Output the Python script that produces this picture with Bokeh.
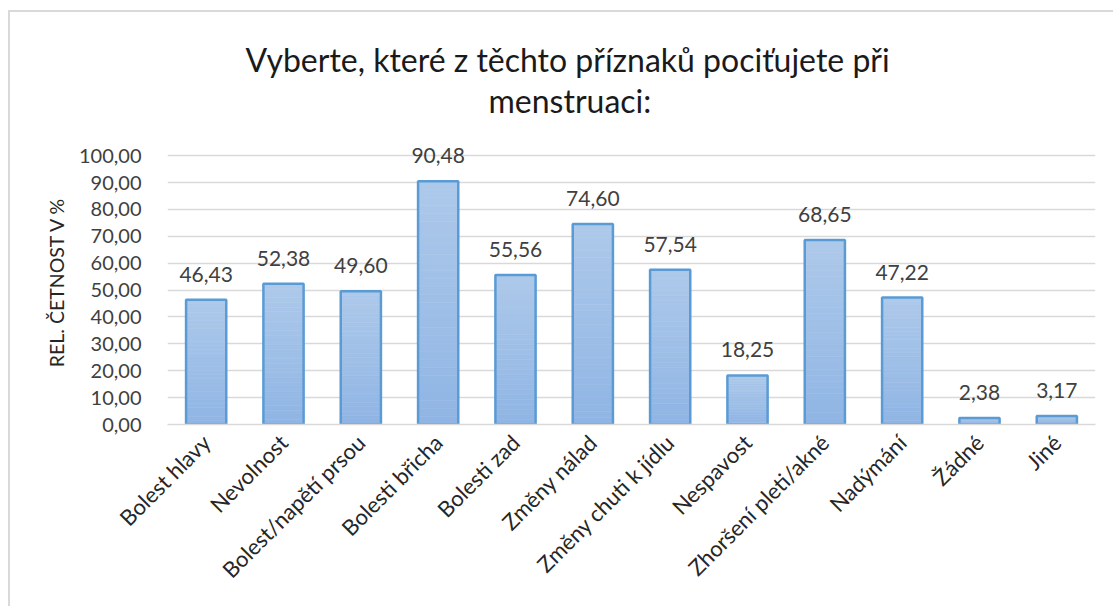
import math
from bokeh.plotting import figure
from bokeh.models import ColumnDataSource, LabelSet, FixedTicker, Range1d, Title
from bokeh.embed import file_html
from bokeh.resources import INLINE
from bokeh.core.properties import value

# ---- data ----
categories = ["Bolest hlavy", "Nevolnost", "Bolest/napětí prsou", "Bolesti břicha",
              "Bolesti zad", "Změny nálad", "Změny chuti k jídlu", "Nespavost",
              "Zhoršení pleti/akné", "Nadýmání", "Žádné", "Jiné"]
values = [46.43, 52.38, 49.60, 90.48, 55.56, 74.60, 57.54, 18.25, 68.65, 47.22, 2.38, 3.17]
y_ticks = [0, 10, 20, 30, 40, 50, 60, 70, 80, 90, 100]
y_tick_labels = ["0,00", "10,00", "20,00", "30,00", "40,00", "50,00",
                 "60,00", "70,00", "80,00", "90,00", "100,00"]
title_lines = ["Vyberte, které z těchto příznaků pociťujete při", "menstruaci:"]
y_label = "REL. ČETNOST V %"

FONT = "Lato"
TEXT = "#404040"

p = figure(width=1105, height=596, x_range=categories, y_range=Range1d(0, 106),
           output_backend="svg", toolbar_location=None,
           min_border_left=157, min_border_right=20, min_border_top=127, min_border_bottom=184)
p.styles = {"margin-left": "8px", "margin-top": "10px",
            "border-left": "2px solid #d9d9d9", "border-top": "2px solid #d9d9d9"}
p.outline_line_color = None
p.background_fill_color = "white"
p.border_fill_color = "white"

# gradient bars built from slices of each value
N = 30
top_rgb = (0xAE, 0xC9, 0xEA)
bot_rgb = (0x8F, 0xB5, 0xE4)
xs, bots, tops, cols = [], [], [], []
for c, v in zip(categories, values):
    for i in range(N):
        t = (i + 0.5) / N
        rgb = tuple(int(round(b + (a - b) * t)) for a, b in zip(top_rgb, bot_rgb))
        xs.append(c)
        bots.append(v * i / N)
        tops.append(v * (i + 1) / N)
        cols.append("#%02x%02x%02x" % rgb)
slices = ColumnDataSource(dict(x=xs, bottom=bots, top=tops, color=cols))
p.vbar(x="x", bottom="bottom", top="top", width=0.52, source=slices,
       fill_color="color", line_color="color", line_width=0.6)

src = ColumnDataSource(dict(x=categories, top=values,
                            lab=[f"{v:.2f}".replace(".", ",") for v in values]))
p.vbar(x="x", top="top", width=0.52, source=src, fill_alpha=0,
       line_color="#5b9bd5", line_width=2.5)

p.add_layout(LabelSet(x="x", y="top", text="lab", source=src, y_offset=18,
                      text_align="center", text_baseline="bottom",
                      text_font=value(FONT), text_font_size="21px", text_color=TEXT))

# axes
p.yaxis.ticker = FixedTicker(ticks=y_ticks)
p.yaxis.major_label_overrides = {t: l for t, l in zip(y_ticks, y_tick_labels)}
p.yaxis.axis_line_color = None
p.yaxis.major_tick_line_color = None
p.yaxis.minor_tick_line_color = None
p.yaxis.major_label_standoff = 20
p.yaxis.major_label_text_font = FONT
p.yaxis.major_label_text_font_size = "20px"
p.yaxis.major_label_text_color = TEXT
p.yaxis.axis_label = y_label
p.yaxis.axis_label_text_font = FONT
p.yaxis.axis_label_text_font_size = "19.5px"
p.yaxis.axis_label_text_font_style = "normal"
p.yaxis.axis_label_text_color = "#262626"
p.yaxis.axis_label_standoff = 8

p.xaxis.axis_line_color = "#d9d9d9"
p.xaxis.axis_line_width = 1.5
p.xaxis.major_tick_line_color = None
p.xaxis.minor_tick_line_color = None
p.xaxis.major_label_orientation = math.pi / 4
p.xaxis.major_label_standoff = 8
p.xaxis.major_label_text_font = FONT
p.xaxis.major_label_text_font_size = "22px"
p.xaxis.major_label_text_color = "#262626"

p.xgrid.grid_line_color = None
p.ygrid.grid_line_color = "#d9d9d9"
p.ygrid.grid_line_width = 1.5

# title (spacer, then lower line, then upper line — stacked outward from the frame)
p.add_layout(Title(text=" ", standoff=3, text_font=FONT, text_font_size="12px"), "above")
p.add_layout(Title(text=title_lines[1], align="left", offset=321, standoff=0,
                   text_font=FONT, text_font_size="32px", text_font_style="normal",
                   text_color="#1a1a1a"), "above")
p.add_layout(Title(text=title_lines[0], align="left", offset=78, standoff=0,
                   text_font=FONT, text_font_size="32px", text_font_style="normal",
                   text_color="#1a1a1a"), "above")

open("out.html", "w").write(file_html(p, INLINE))
